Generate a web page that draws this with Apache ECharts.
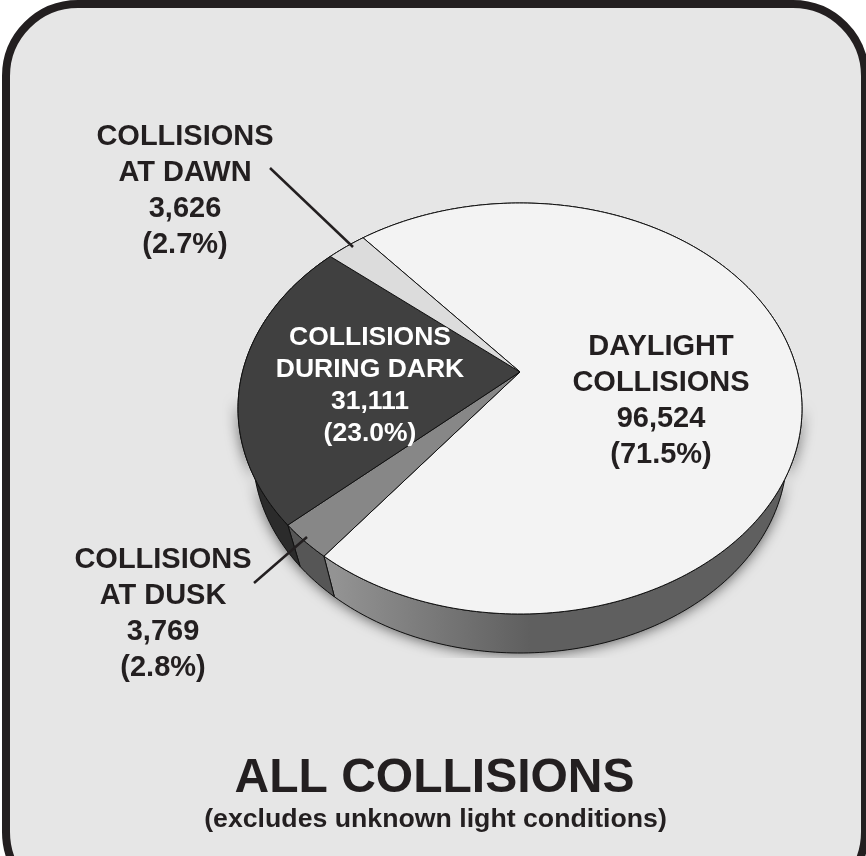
<!DOCTYPE html>
<html>
<head>
<meta charset="utf-8">
<script src="https://cdn.jsdelivr.net/npm/echarts@6/dist/echarts.min.js"></script>
<style>html,body{margin:0;padding:0;background:#fff}#c{width:866px;height:856px}</style>
</head>
<body>
<div id="c"></div>
<script>
const categories = ['DAYLIGHT\nCOLLISIONS', 'COLLISIONS\nAT DUSK', 'COLLISIONS\nDURING DARK', 'COLLISIONS\nAT DAWN'];
const collisions = [96524, 3769, 31111, 3626];
const percents = ['71.5%', '2.8%', '23.0%', '2.7%'];
const titleText = 'ALL COLLISIONS';
const subtitleText = '(excludes unknown light conditions)';

const total = collisions.reduce((a, b) => a + b, 0);
const FONT = '"Liberation Sans", Arial, sans-serif';
const INK = '#231f20';
const topColors = ['#f3f3f3', '#878787', '#404040', '#dcdcdc'];
const START = -40;                       // clockwise from 12 o'clock
const K = -0.178;                        // perspective shift of the apex
const TOP = {cx: 520, cy: 408.5, rx: 282, ry: 205.5};
const BASE = {cx: 520, cy: 453, rx: 267, ry: 200};

function project(deg, e) {
  const t = deg * Math.PI / 180, u = Math.sin(t), v = -Math.cos(t);
  const d = 1 + K * v;
  return [e.cx + e.rx * u * Math.sqrt(1 - K * K) / d, e.cy + e.ry * (v + K) / d];
}
function arc(a, b, e) {
  const pts = [], n = Math.max(2, Math.ceil(Math.abs(b - a)));
  for (let i = 0; i <= n; i++) pts.push(project(a + (b - a) * i / n, e));
  return pts;
}
function span(i) {
  let s = 0;
  for (let j = 0; j < i; j++) s += collisions[j];
  return [START + s / total * 360, START + (s + collisions[i]) / total * 360];
}
const wallFill = [
  new echarts.graphic.LinearGradient(335, 0, 530, 0, [
    {offset: 0, color: '#939393'}, {offset: 1, color: '#5f5f5f'}], true),
  '#565656', '#2b2b2b', '#9a9a9a'
];

function renderWall(params, api) {
  const i = params.dataIndex, [a, b] = span(i);
  const pts = arc(a, b, TOP).concat(arc(b, a, BASE));
  const kids = [];
  if (i === 0) {
    kids.push({type: 'polygon', shape: {points: arc(100, 262, TOP).concat(arc(262, 100, BASE))},
      clipPath: {type: 'rect', shape: {x: 0, y: 0, width: 866, height: 658}},
      style: {fill: '#555', shadowBlur: 14, shadowColor: 'rgba(0,0,0,0.65)', shadowOffsetY: 1}});
  }
  kids.push({type: 'polygon', shape: {points: pts},
    style: {fill: wallFill[i], stroke: '#111', lineWidth: 1, lineJoin: 'round'}});
  return {type: 'group', children: kids};
}
function renderTop(params, api) {
  const i = params.dataIndex, [a, b] = span(i);
  const apex = [TOP.cx, TOP.cy + TOP.ry * K];
  return {type: 'polygon', shape: {points: [apex].concat(arc(a, b, TOP))},
    style: {fill: topColors[i], stroke: '#111', lineWidth: 1, lineJoin: 'round'}};
}
function label(i) {
  return categories[i] + '\n' + collisions[i].toLocaleString('en-US') + '\n(' + percents[i] + ')';
}
function text(str, x, y, size, lh, color) {
  return {type: 'text', z: 20, x: x, y: y, style: {text: str, fill: color || INK,
    font: 'bold ' + size + 'px ' + FONT, lineHeight: lh, align: 'center', verticalAlign: 'middle'}};
}

const chart = echarts.init(document.getElementById('c'), null, {renderer: 'canvas'});
chart.setOption({
  animation: false,
  backgroundColor: '#ffffff',
  graphic: [
    {type: 'rect', z: 0, shape: {x: 6, y: 4, width: 859, height: 900, r: 72},
      style: {fill: '#e6e6e6', stroke: INK, lineWidth: 8}},
    {type: 'line', z: 15, shape: {x1: 270, y1: 168, x2: 353, y2: 247}, style: {stroke: INK, lineWidth: 2.5}},
    {type: 'line', z: 15, shape: {x1: 254, y1: 583, x2: 307, y2: 537}, style: {stroke: INK, lineWidth: 2.5}},
    text(label(0), 661, 401, 29, 36),
    text(label(1), 163, 613.5, 29, 36),
    text(label(2), 370, 385.5, 26.5, 32, '#ffffff'),
    text(label(3), 185, 191, 29, 36),
    text(titleText, 434.5, 778.5, 48, 50),
    text(subtitleText, 435.5, 820, 26.7, 28)
  ],
  series: [
    {type: 'custom', name: 'walls', coordinateSystem: 'none', z: 2, silent: true, renderItem: renderWall, data: collisions},
    {type: 'custom', name: 'tops', coordinateSystem: 'none', z: 3, silent: true, renderItem: renderTop, data: collisions}
  ]
});
</script>
</body>
</html>
